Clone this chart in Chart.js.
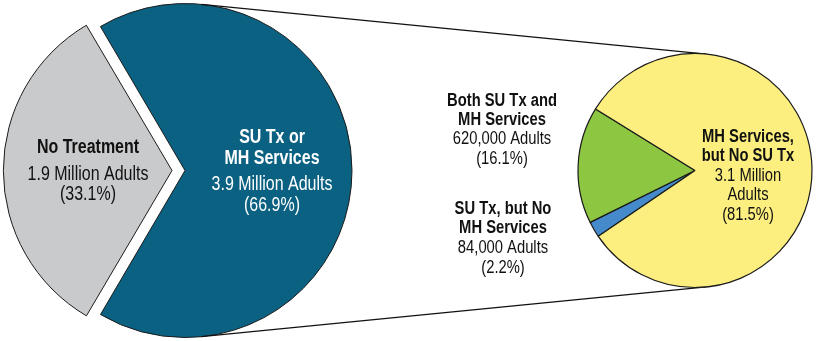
<!DOCTYPE html>
<html><head><meta charset="utf-8">
<script src="https://cdn.jsdelivr.net/npm/chart.js@4"></script>
<style>
html,body{margin:0;padding:0;background:#fff;width:816px;height:341px;overflow:hidden}
#wrap{position:relative;width:816px;height:341px}
canvas{position:absolute;left:0;top:0}
</style>
</head><body>
<div id="wrap"><canvas id="c1" width="816" height="341"></canvas><canvas id="c2" width="816" height="341"></canvas></div>
<script>
// ---- data ----
const outerCategories = ["No Treatment", "SU Tx or MH Services"];
const outerLabelLines = [["No Treatment"], ["SU Tx or", "MH Services"]];
const outerAdults = [["1.9 Million Adults"], ["3.9 Million Adults"]];
const outerPercent = [33.1, 66.9];

const innerCategories = ["SU Tx, but No MH Services", "Both SU Tx and MH Services", "MH Services, but No SU Tx"];
const innerLabelLines = [["SU Tx, but No", "MH Services"], ["Both SU Tx and", "MH Services"], ["MH Services,", "but No SU Tx"]];
const innerAdults = [["84,000 Adults"], ["620,000 Adults"], ["3.1 Million", "Adults"]];
const innerPercent = [2.2, 16.1, 81.5];

// ---- style ----
function hasFont(name) {
  const c = document.createElement('canvas').getContext('2d');
  const s = '1.9 Million Adults WMwm';
  c.font = '40px monospace';
  const a = c.measureText(s).width;
  c.font = '40px "' + name + '", monospace';
  const b = c.measureText(s).width;
  return Math.abs(a - b) > 0.5;
}
const NARROW = hasFont('Liberation Sans Narrow');
const FONT = NARROW ? '"Liberation Sans Narrow", "Liberation Sans", Arial, sans-serif' : '"Liberation Sans", Arial, sans-serif';
const XSCALE = NARROW ? 1 : 0.82;
const BORDER = '#1b1b1b';

function pctText(p) { return '(' + p.toFixed(1) + '%)'; }
function drawText(ctx, t, x, y) {
  ctx.save();
  ctx.translate(x, y);
  ctx.scale(XSCALE, 1);
  ctx.fillText(t, 0, 0);
  ctx.restore();
}

const labelPlugin = {
  id: 'sliceLabels',
  afterDatasetsDraw(chart, args, opts) {
    const ctx = chart.ctx;
    const meta = chart.getDatasetMeta(0);
    const base = meta.data[opts.anchor];
    const cx = base.x, cy = base.y;
    ctx.save();
    ctx.textAlign = 'center';
    ctx.textBaseline = 'alphabetic';
    opts.blocks.forEach(b => {
      let y = cy + b.dy;
      const x = cx + b.dx;
      ctx.fillStyle = b.color;
      ctx.font = 'bold ' + b.size + 'px ' + FONT;
      opts.titles[b.index].forEach((t, i) => {
        if (i > 0) y += b.lh;
        drawText(ctx, t, x, y);
      });
      y += b.gap;
      ctx.font = b.size + 'px ' + FONT;
      const reg = opts.regular[b.index].concat([pctText(opts.pct[b.index])]);
      reg.forEach((t, i) => {
        if (i > 0) y += b.rlh;
        drawText(ctx, t, x, y);
      });
    });
    ctx.restore();
  }
};

const chart1 = new Chart(document.getElementById('c1'), {
  type: 'pie',
  data: {
    labels: outerCategories,
    datasets: [{
      data: outerPercent,
      backgroundColor: ['#c9cacc', '#0b6181'],
      borderColor: BORDER,
      borderWidth: 1,
      offset: [52, 0],
      hoverOffset: 0
    }]
  },
  options: {
    responsive: false,
    animation: false,
    events: [],
    radius: 167,
    rotation: 210.4,
    layout: { padding: { left: 0, right: 446, top: 0, bottom: 0 } },
    plugins: {
      legend: { display: false },
      tooltip: { enabled: false },
      sliceLabels: {
        anchor: 1,
        titles: outerLabelLines,
        regular: outerAdults,
        pct: outerPercent,
        blocks: [
          { index: 0, dx: -97, dy: -18, color: '#111', size: 19.5, lh: 21, gap: 27, rlh: 20 },
          { index: 1, dx: 87, dy: -27.5, color: '#ffffff', size: 19.5, lh: 21, gap: 26, rlh: 20.5 }
        ]
      }
    }
  },
  plugins: [labelPlugin]
});

const connectorPlugin = {
  id: 'connectors',
  beforeDatasetsDraw(chart) {
    const a = chart1.getDatasetMeta(0).data[1];
    const b = chart.getDatasetMeta(0).data[0];
    const x1 = a.x, y1 = a.y, r1 = a.outerRadius;
    const x2 = b.x, y2 = b.y, r2 = b.outerRadius;
    const dx = x2 - x1, dy = y2 - y1;
    const d = Math.hypot(dx, dy);
    const th = Math.atan2(dy, dx);
    const al = Math.asin((r1 - r2) / d);
    const ctx = chart.ctx;
    ctx.save();
    ctx.strokeStyle = '#111';
    ctx.lineWidth = 1.3;
    [th - (Math.PI / 2 - al), th + (Math.PI / 2 - al)].forEach(n => {
      ctx.beginPath();
      ctx.moveTo(x1 + r1 * Math.cos(n), y1 + r1 * Math.sin(n));
      ctx.lineTo(x2 + r2 * Math.cos(n), y2 + r2 * Math.sin(n));
      ctx.stroke();
    });
    ctx.restore();
  }
};

const chart2 = new Chart(document.getElementById('c2'), {
  type: 'pie',
  data: {
    labels: innerCategories,
    datasets: [{
      data: innerPercent,
      backgroundColor: ['#458bcb', '#8dc641', '#fcef80'],
      borderColor: BORDER,
      borderWidth: 1.2,
      hoverOffset: 0
    }]
  },
  options: {
    responsive: false,
    animation: false,
    events: [],
    radius: 117,
    rotation: 235.76,
    layout: { padding: { left: 574, right: 0, top: 0, bottom: 0 } },
    plugins: {
      legend: { display: false },
      tooltip: { enabled: false },
      sliceLabels: {
        anchor: 0,
        titles: innerLabelLines,
        regular: innerAdults,
        pct: innerPercent,
        blocks: [
          { index: 0, dx: -192, dy: 43, color: '#111', size: 18, lh: 19.8, gap: 19.8, rlh: 19.4 },
          { index: 1, dx: -193, dy: -64.8, color: '#111', size: 18, lh: 19.3, gap: 19.4, rlh: 19.3 },
          { index: 2, dx: 53, dy: -29, color: '#111', size: 18, lh: 19.2, gap: 19.8, rlh: 19.5 }
        ]
      }
    }
  },
  plugins: [connectorPlugin, labelPlugin]
});
</script>
</body></html>
